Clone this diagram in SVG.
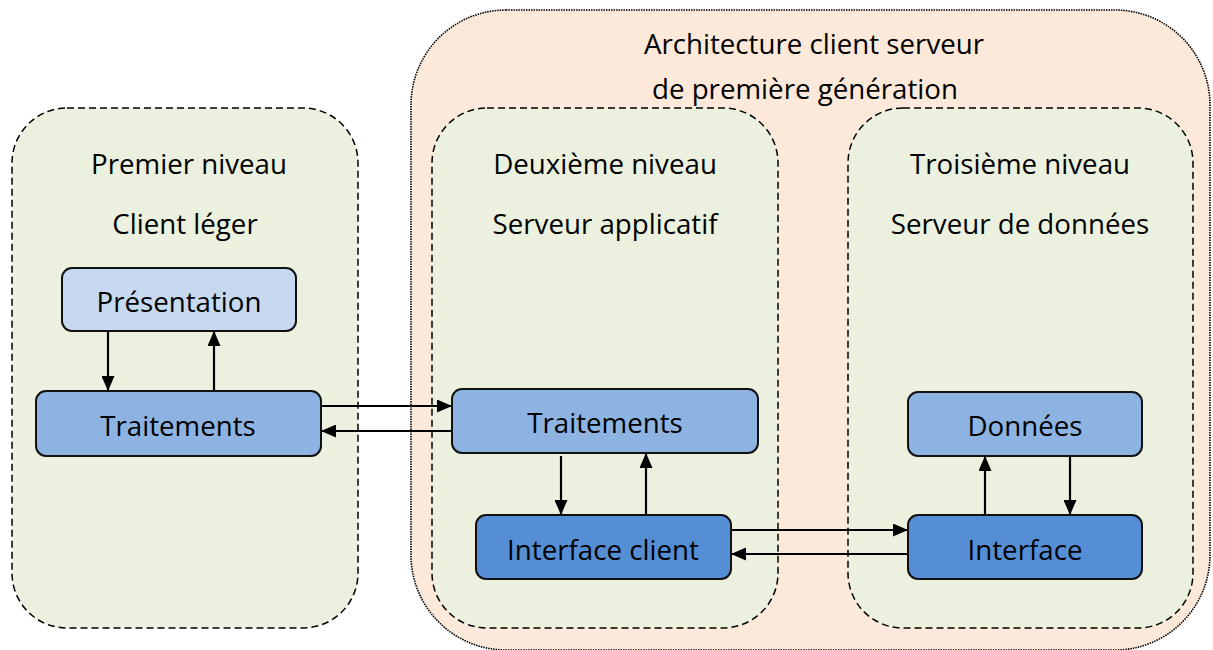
<svg xmlns="http://www.w3.org/2000/svg" width="1213" height="650" viewBox="0 0 1213 650">
<style>
.outer{fill:#FDE9D9;stroke:#000;stroke-width:1.6;stroke-dasharray:1.5 1}
.tier{fill:#EBF1DE;stroke:#000;stroke-width:1.5;stroke-dasharray:7 4}
.node{stroke:#111;stroke-width:2}
.light{fill:#C6D9F1}
.mid{fill:#8DB3E2}
.dark{fill:#558ED5}
text{font-family:"Open Sans","Liberation Sans",sans-serif;font-size:27.7px;fill:#000;text-anchor:middle}
.conn line{stroke:#000;stroke-width:2.2;marker-end:url(#ah)}
</style>
<defs>
<marker id="ah" viewBox="0 0 15 13" refX="14" refY="6.5" markerWidth="15" markerHeight="13" markerUnits="userSpaceOnUse" orient="auto">
<path d="M0,0 L15,6.5 L0,13 Z" fill="#000"/>
</marker>
</defs>
<g id="outer">
<rect class="outer" x="411" y="10" width="799" height="640" rx="95" ry="95"/>
<text x="814" y="54">Architecture client serveur</text>
<text x="805" y="99">de première génération</text>
</g>
<g id="tier1">
<rect class="tier" x="12" y="108" width="346" height="520" rx="55" ry="55"/>
<text x="189" y="174">Premier niveau</text>
<text x="185" y="234">Client léger</text>
</g>
<g id="tier2">
<rect class="tier" x="432" y="108" width="346" height="520" rx="55" ry="55"/>
<text x="605" y="174">Deuxième niveau</text>
<text x="605" y="234">Serveur applicatif</text>
</g>
<g id="tier3">
<rect class="tier" x="848" y="108" width="345" height="520" rx="55" ry="55"/>
<text x="1020" y="174">Troisième niveau</text>
<text x="1020" y="234">Serveur de données</text>
</g>
<g id="presentation">
<rect class="node light" x="62" y="268" width="234" height="63" rx="10"/>
<text x="179" y="312">Présentation</text>
</g>
<g id="traitements1">
<rect class="node mid" x="36" y="391" width="285" height="65" rx="10"/>
<text x="178" y="436">Traitements</text>
</g>
<g id="traitements2">
<rect class="node mid" x="452" y="389" width="306" height="64" rx="10"/>
<text x="605" y="433">Traitements</text>
</g>
<g id="interface-client">
<rect class="node dark" x="476" y="515" width="255" height="64" rx="10"/>
<text x="603" y="560">Interface client</text>
</g>
<g id="donnees">
<rect class="node mid" x="908" y="392" width="234" height="64" rx="10"/>
<text x="1025" y="436">Données</text>
</g>
<g id="interface">
<rect class="node dark" x="908" y="515" width="234" height="64" rx="10"/>
<text x="1025" y="560">Interface</text>
</g>
<g id="connectors" class="conn">
<line x1="108" y1="332" x2="108" y2="390"/>
<line x1="214" y1="390" x2="214" y2="332"/>
<line x1="322" y1="406" x2="451" y2="406"/>
<line x1="451" y1="431" x2="322" y2="431"/>
<line x1="561" y1="456" x2="561" y2="514"/>
<line x1="646" y1="514" x2="646" y2="454"/>
<line x1="732" y1="530" x2="907" y2="530"/>
<line x1="907" y1="554" x2="732" y2="554"/>
<line x1="985" y1="514" x2="985" y2="457"/>
<line x1="1070" y1="457" x2="1070" y2="514"/>
</g>
</svg>
